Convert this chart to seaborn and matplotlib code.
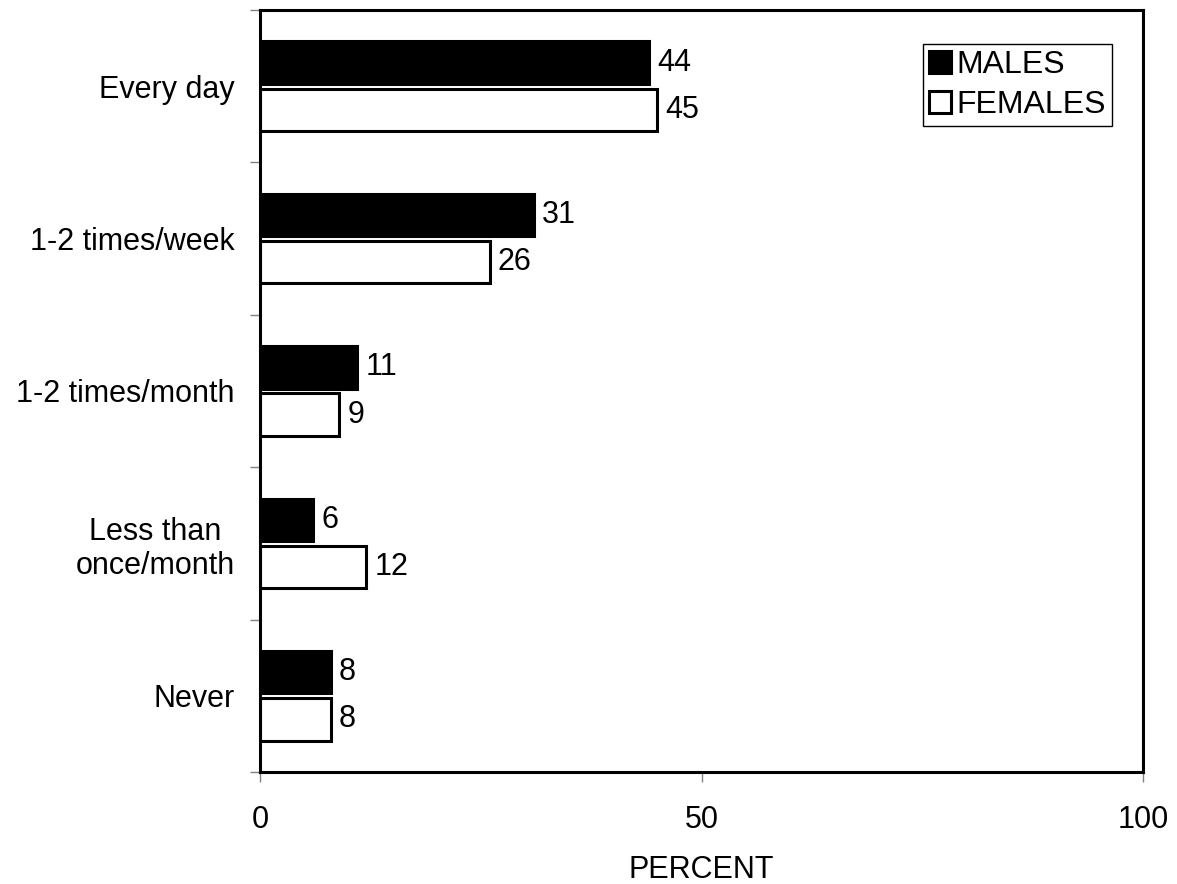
import pandas as pd
import seaborn as sns
import matplotlib.pyplot as plt

CATEGORIES = ['Every day', '1-2 times/week', '1-2 times/month',
              'Less than\nonce/month', 'Never']
MALES = [44, 31, 11, 6, 8]
FEMALES = [45, 26, 9, 12, 8]
GROUPS = ['MALES', 'FEMALES']
X_TICKS = [0, 50, 100]

sns.set_style('white')
plt.rcParams['font.family'] = ['Liberation Sans', 'DejaVu Sans']
plt.rcParams['text.color'] = 'black'
plt.rcParams['xtick.labelcolor'] = 'black'
plt.rcParams['ytick.labelcolor'] = 'black'
plt.rcParams['axes.labelcolor'] = 'black'
FS = 22

df = pd.DataFrame({
    'freq': CATEGORIES * 2,
    'sex': ['MALES'] * len(CATEGORIES) + ['FEMALES'] * len(CATEGORIES),
    'pct': MALES + FEMALES,
})

fig = plt.figure(figsize=(11.77, 8.84), dpi=100)
ax = fig.add_axes([260 / 1177, 1 - 772 / 884, 883 / 1177, 762 / 884])

sns.barplot(data=df, y='freq', x='pct', hue='sex', hue_order=GROUPS,
            order=CATEGORIES, palette=['black', 'white'], orient='h',
            width=0.62, gap=0.1, edgecolor='black', linewidth=2.2,
            errorbar=None, ax=ax)

for cont in ax.containers:
    ax.bar_label(cont, fmt='%d', padding=6, fontsize=FS, color='black')

ax.set_xlim(0, 100)
ax.set_ylim(4.5, -0.5)
ax.set_xticks(X_TICKS)
ax.set_yticks(range(len(CATEGORIES)))
ax.set_yticklabels(CATEGORIES, fontsize=FS, multialignment='center')
ax.set_yticks([i - 0.5 for i in range(len(CATEGORIES) + 1)], minor=True)
ax.tick_params(axis='y', which='major', length=0, pad=18)
ax.tick_params(axis='y', which='minor', left=True, length=7, width=1,
               color='gray', direction='out')
ax.tick_params(axis='x', which='major', bottom=True, length=7, width=1,
               color='gray', direction='out', pad=17, labelsize=FS)
ax.set_xlabel('PERCENT', fontsize=FS, labelpad=14)
ax.set_ylabel('')

for sp in ax.spines.values():
    sp.set_visible(True)
    sp.set_color('black')
    sp.set_linewidth(2.2)

handles, labels = ax.get_legend_handles_labels()
leg = ax.legend(handles, labels, loc='upper right',
                bbox_to_anchor=(1 - 31 / 883, 1 - 34 / 762), borderaxespad=0,
                fontsize=23, frameon=True, fancybox=False, framealpha=1,
                edgecolor='black', handlelength=0.7, handleheight=0.7,
                handletextpad=0.15, labelspacing=0.3, borderpad=0.2)
leg.get_frame().set_linewidth(1)

fig.savefig('out.png', dpi=100)
